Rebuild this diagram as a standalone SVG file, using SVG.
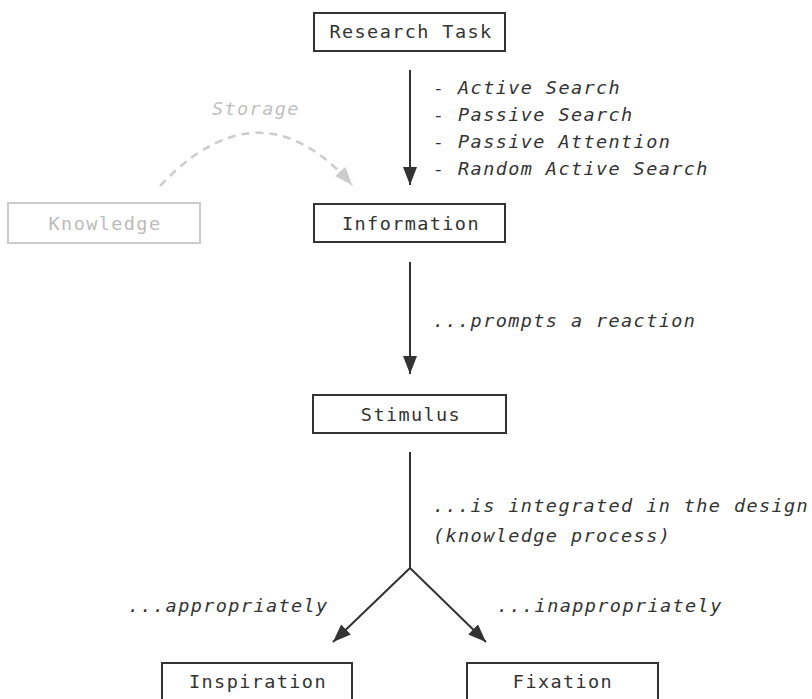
<svg xmlns="http://www.w3.org/2000/svg" width="812" height="699" viewBox="0 0 812 699">
  <style>
    .box { fill: #ffffff; stroke: #333333; stroke-width: 2; }
    .box-muted { fill: #ffffff; stroke: #cccccc; stroke-width: 2; }
    .label { font-family: "DejaVu Sans Mono", "Liberation Mono", monospace; font-size: 18.5px; letter-spacing: 1.4px; fill: #333333; text-anchor: middle; }
    .label-muted { fill: #bbbbbb; }
    .note { font-family: "DejaVu Sans Mono", "Liberation Mono", monospace; font-size: 18.5px; letter-spacing: 1.4px; font-style: italic; fill: #333333; }
    .note-muted { fill: #c0c0c0; }
    .edge { fill: none; stroke: #333333; stroke-width: 2; }
    .edge-muted { fill: none; stroke: #cccccc; stroke-width: 2.5; stroke-dasharray: 8 6; }
  </style>
  <defs>
    <marker id="head" markerUnits="userSpaceOnUse" markerWidth="20" markerHeight="16" refX="18" refY="7" orient="auto">
      <path d="M0,0 L18,7 L0,14 z" fill="#333333"/>
    </marker>
    <marker id="head-muted" markerUnits="userSpaceOnUse" markerWidth="20" markerHeight="16" refX="18" refY="7" orient="auto">
      <path d="M0,0 L18,7 L0,14 z" fill="#cccccc"/>
    </marker>
  </defs>

  <rect width="812" height="699" fill="#ffffff"/>

  <g id="connectors">
    <line class="edge" x1="410" y1="70" x2="410" y2="185" marker-end="url(#head)"/>
    <line class="edge" x1="410" y1="262" x2="410" y2="374" marker-end="url(#head)"/>
    <polyline class="edge" points="410,452 410,568 333,642" marker-end="url(#head)"/>
    <line class="edge" x1="410" y1="568" x2="486" y2="642" marker-end="url(#head)"/>
    <path class="edge-muted" d="M160,186 Q260,80 352,185" marker-end="url(#head-muted)"/>
  </g>

  <g id="edge-labels">
    <text class="note" x="433" y="94">- Active Search</text>
    <text class="note" x="433" y="121">- Passive Search</text>
    <text class="note" x="433" y="148">- Passive Attention</text>
    <text class="note" x="433" y="175">- Random Active Search</text>
    <text class="note note-muted" x="212" y="115">Storage</text>
    <text class="note" x="433" y="327">...prompts a reaction</text>
    <text class="note" x="433" y="512">...is integrated in the design</text>
    <text class="note" x="433" y="542">(knowledge process)</text>
    <text class="note" x="128" y="612">...appropriately</text>
    <text class="note" x="497" y="612">...inappropriately</text>
  </g>

  <g id="research-task">
    <rect class="box" x="314" y="13" width="191" height="38"/>
    <text class="label" x="411" y="38">Research Task</text>
  </g>

  <g id="knowledge">
    <rect class="box-muted" x="8" y="203" width="192" height="40"/>
    <text class="label label-muted" x="105" y="230">Knowledge</text>
  </g>

  <g id="information">
    <rect class="box" x="314" y="204" width="191" height="38"/>
    <text class="label" x="411" y="230">Information</text>
  </g>

  <g id="stimulus">
    <rect class="box" x="313" y="395" width="193" height="38"/>
    <text class="label" x="411" y="421">Stimulus</text>
  </g>

  <g id="inspiration">
    <rect class="box" x="162" y="663" width="190" height="38"/>
    <text class="label" x="258" y="688">Inspiration</text>
  </g>

  <g id="fixation">
    <rect class="box" x="467" y="663" width="191" height="38"/>
    <text class="label" x="563" y="688">Fixation</text>
  </g>
</svg>
